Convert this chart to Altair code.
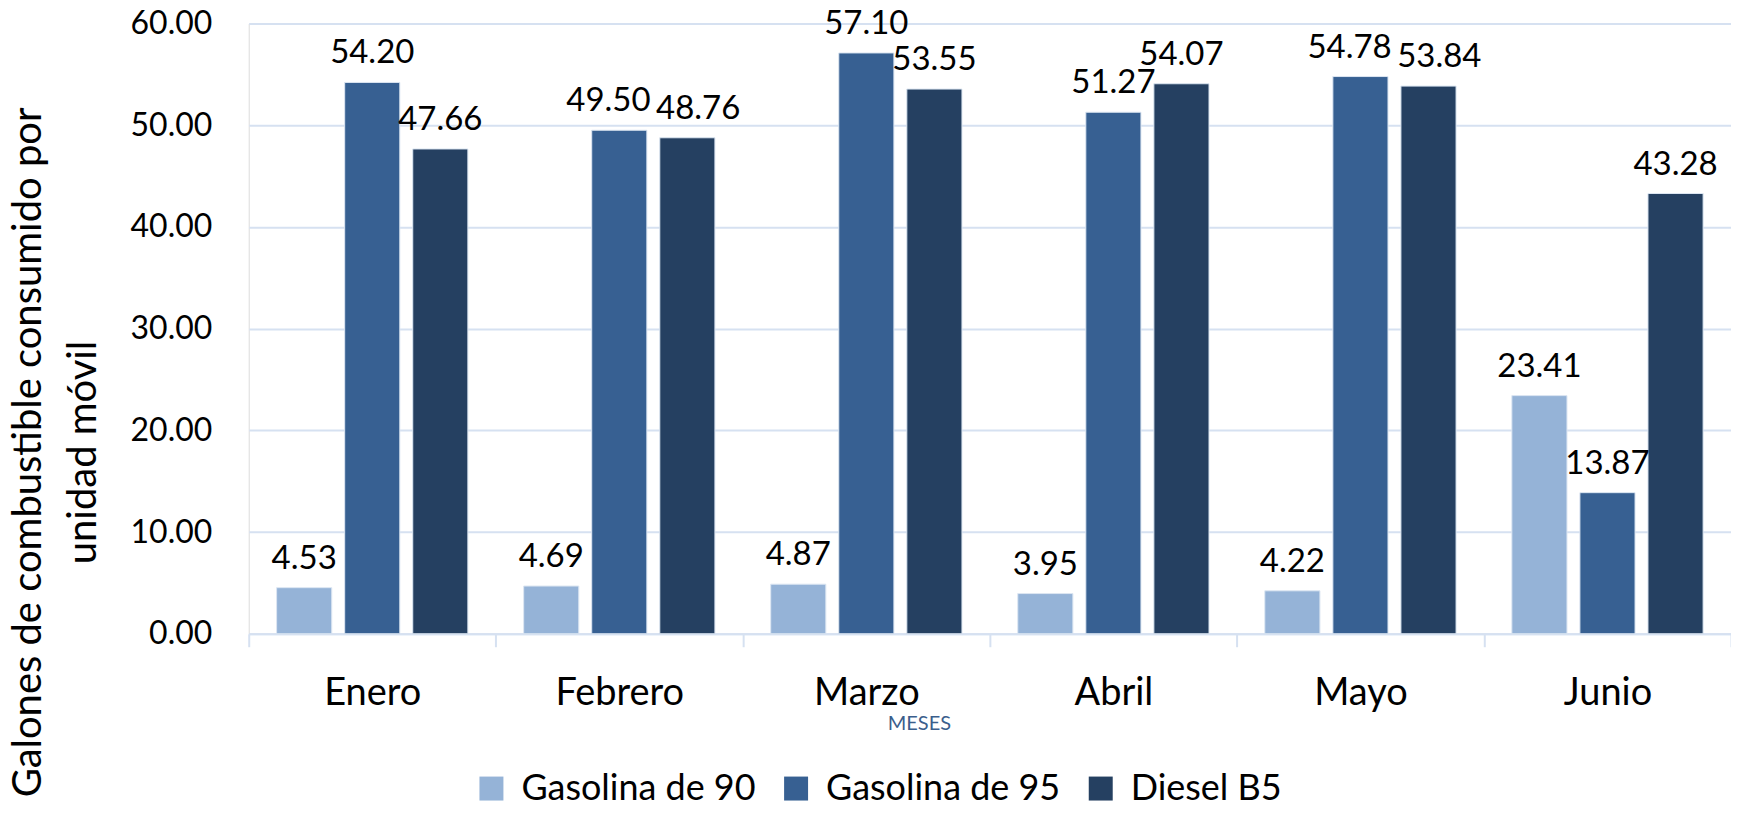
import altair as alt
import pandas as pd

meses = ["Enero", "Febrero", "Marzo", "Abril", "Mayo", "Junio"]
series = ["Gasolina de 90", "Gasolina de 95", "Diesel B5"]
gasolina_90 = [4.53, 4.69, 4.87, 3.95, 4.22, 23.41]
gasolina_95 = [54.20, 49.50, 57.10, 51.27, 54.78, 13.87]
diesel_b5 = [47.66, 48.76, 53.55, 54.07, 53.84, 43.28]
colores = ["#95B3D7", "#376092", "#254061"]
y_ticks = [0, 10, 20, 30, 40, 50, 60]

FONT = "Lato"
GRID = "#D6E1F1"
PLOT_W, PLOT_H = 1484, 611
Y_MAX = 60
LABEL_SIZE = 33

rows = []
for name, vals in zip(series, [gasolina_90, gasolina_95, diesel_b5]):
    for m, v in zip(meses, vals):
        rows.append({"mes": m, "tipo": name, "valor": v, "dx": 0.0})
df = pd.DataFrame(rows)

# simple label collision avoidance (like the spreadsheet does): neighbouring
# labels at nearly the same height are pushed apart horizontally
bar_step = PLOT_W / len(meses) * 0.275
px_per_unit = PLOT_H / Y_MAX
for m in meses:
    sub = df[df["mes"] == m]
    idx = list(sub.index)
    for a, b in zip(idx[:-1], idx[1:]):
        va, vb = df.at[a, "valor"], df.at[b, "valor"]
        wa = len(f"{va:.2f}") * LABEL_SIZE * 0.52
        wb = len(f"{vb:.2f}") * LABEL_SIZE * 0.52
        overlap_x = (wa + wb) / 2 + 4 - bar_step
        if abs(va - vb) * px_per_unit < LABEL_SIZE * 0.8 and overlap_x > 0:
            df.at[a, "dx"] -= overlap_x / 2
            df.at[b, "dx"] += overlap_x / 2

x_enc = alt.X(
    "mes:N",
    sort=meses,
    scale=alt.Scale(paddingInner=0, paddingOuter=0),
    axis=alt.Axis(
        title="MESES",
        titleFont=FONT,
        titleFontSize=20,
        titleFontWeight="normal",
        titleColor="#3B5E8C",
        titleX=671,
        titleY=80,
        titleAlign="center",
        titleBaseline="top",
        labelAngle=0,
        labelFont=FONT,
        labelFontSize=38,
        labelColor="#000000",
        labelPadding=28,
        labelBaseline="top",
        tickBand="extent",
        tickSize=13,
        tickColor=GRID,
        tickWidth=2,
        domainColor=GRID,
        domainWidth=2,
        grid=False,
    ),
)
xoff_enc = alt.XOffset(
    "tipo:N",
    sort=series,
    scale=alt.Scale(paddingInner=0.19, paddingOuter=0.41),
)
y_enc = alt.Y(
    "valor:Q",
    scale=alt.Scale(domain=[0, Y_MAX], nice=False),
    axis=alt.Axis(
        title=["Galones de combustible consumido por", "unidad móvil"],
        titleFont=FONT,
        titleFontSize=40,
        titleFontWeight="normal",
        titleColor="#000000",
        titleLineHeight=55,
        titleAngle=270,
        titleX=-220,
        titleY=429,
        titleAlign="center",
        titleBaseline="middle",
        values=y_ticks,
        format=".2f",
        labelFont=FONT,
        labelFontSize=32,
        labelColor="#000000",
        labelPadding=37,
        ticks=False,
        domain=False,
        grid=True,
        gridColor=GRID,
        gridWidth=2,
    ),
)

bars = alt.Chart(df).mark_bar(stroke="#DCE6F2", strokeWidth=1).encode(
    x=x_enc,
    xOffset=xoff_enc,
    y=y_enc,
    color=alt.Color(
        "tipo:N",
        sort=series,
        scale=alt.Scale(domain=series, range=colores),
        legend=alt.Legend(
            title=None,
            orient="none",
            legendX=225,
            legendY=748,
            direction="horizontal",
            symbolType="square",
            symbolSize=576,
            symbolStrokeWidth=0,
            labelFont=FONT,
            labelFontSize=36,
            labelColor="#000000",
            labelOffset=12,
            labelLimit=0,
            columnPadding=22,
        ),
    ),
)

labels = alt.Chart(df).mark_text(
    font=FONT,
    fontSize=LABEL_SIZE,
    color="#000000",
    baseline="alphabetic",
    dy=-19,
    dx=alt.ExprRef("datum.dx"),
).encode(
    x=alt.X("mes:N", sort=meses),
    xOffset=alt.XOffset("tipo:N", sort=series),
    y=alt.Y("valor:Q"),
    text=alt.Text("valor:Q", format=".2f"),
)

chart = (
    alt.layer(bars, labels)
    .properties(
        width=PLOT_W,
        height=PLOT_H,
        autosize=alt.AutoSizeParams(type="none"),
        padding={"left": 241, "top": 15, "right": 0, "bottom": 173},
    )
    .configure_view(stroke=None)
    .configure(background="#FFFFFF")
)

chart.save("out.html", embed_options={"renderer": "svg", "actions": False})
